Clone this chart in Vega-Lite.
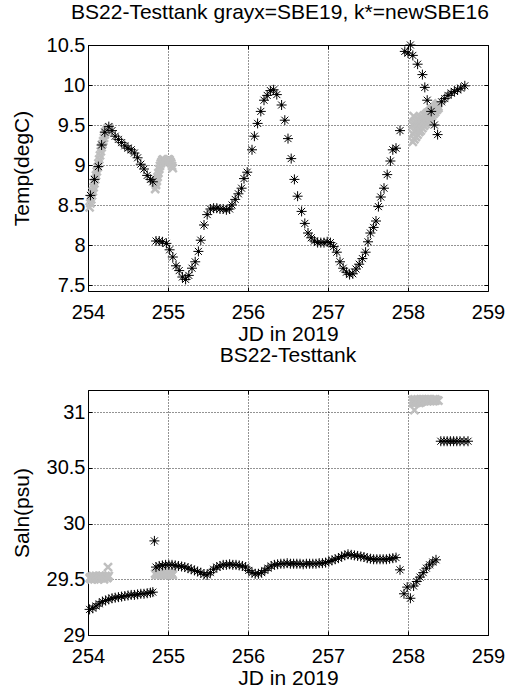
{
  "$schema": "https://vega.github.io/schema/vega-lite/v6.json",
  "background": "white",
  "padding": {"left": 10, "top": 1, "right": 0, "bottom": 0},
  "bounds": "flush",
  "spacing": 99,
  "config": {
    "font": "Liberation Sans",
    "view": {"stroke": "#000", "strokeWidth": 1},
    "axis": {
      "domain": false,
      "gridColor": "#000",
      "gridDash": [1, 2],
      "gridOpacity": 0.85,
      "gridWidth": 1,
      "tickColor": "#000",
      "tickSize": -4,
      "tickWidth": 1,
      "labelFont": "Liberation Sans",
      "labelFontSize": 20,
      "labelColor": "#000",
      "labelFlush": false,
      "labelOverlap": false,
      "titleFont": "Liberation Sans",
      "titleFontSize": 21,
      "titleFontWeight": "normal",
      "titleColor": "#000"
    },
    "axisBottom": {"labelBaseline": "alphabetic", "labelPadding": 31, "titleBaseline": "alphabetic", "titleY": 49},
    "axisLeft": {"labelPadding": 7, "titleBaseline": "alphabetic", "titleX": -60},
    "title": {"font": "Liberation Sans", "fontSize": 21, "fontWeight": "normal", "color": "#000", "anchor": "middle", "baseline": "alphabetic"}
  },
  "datasets": {
    "temp_sbe19": [
      {"jd": 254.02, "temp": 8.47}, {"jd": 254.03, "temp": 8.52}, {"jd": 254.04, "temp": 8.57}, {"jd": 254.05, "temp": 8.62},
      {"jd": 254.06, "temp": 8.67}, {"jd": 254.07, "temp": 8.72}, {"jd": 254.08, "temp": 8.77}, {"jd": 254.09, "temp": 8.82},
      {"jd": 254.10, "temp": 8.87}, {"jd": 254.11, "temp": 8.92}, {"jd": 254.12, "temp": 8.97}, {"jd": 254.13, "temp": 9.02},
      {"jd": 254.14, "temp": 9.07}, {"jd": 254.15, "temp": 9.12}, {"jd": 254.16, "temp": 9.17}, {"jd": 254.17, "temp": 9.22},
      {"jd": 254.18, "temp": 9.26}, {"jd": 254.19, "temp": 9.30}, {"jd": 254.20, "temp": 9.34}, {"jd": 254.21, "temp": 9.38},
      {"jd": 254.22, "temp": 9.41}, {"jd": 254.23, "temp": 9.43}, {"jd": 254.24, "temp": 9.45}, {"jd": 254.25, "temp": 9.46},
      {"jd": 254.26, "temp": 9.47},
      {"jd": 254.84, "temp": 8.70}, {"jd": 254.85, "temp": 8.75}, {"jd": 254.86, "temp": 8.80}, {"jd": 254.87, "temp": 8.85},
      {"jd": 254.88, "temp": 8.90}, {"jd": 254.89, "temp": 8.95}, {"jd": 254.90, "temp": 8.99}, {"jd": 254.91, "temp": 9.02},
      {"jd": 254.92, "temp": 9.04}, {"jd": 254.93, "temp": 9.06}, {"jd": 254.94, "temp": 9.07}, {"jd": 254.95, "temp": 9.06},
      {"jd": 254.96, "temp": 9.05}, {"jd": 254.97, "temp": 9.04}, {"jd": 254.98, "temp": 9.05}, {"jd": 254.99, "temp": 9.06},
      {"jd": 255.00, "temp": 9.07}, {"jd": 255.01, "temp": 9.07}, {"jd": 255.02, "temp": 9.06}, {"jd": 255.03, "temp": 9.04},
      {"jd": 255.04, "temp": 9.02}, {"jd": 255.05, "temp": 8.99}, {"jd": 255.06, "temp": 8.96},
      {"jd": 258.06, "temp": 9.29}, {"jd": 258.06, "temp": 9.39}, {"jd": 258.06, "temp": 9.50},
      {"jd": 258.08, "temp": 9.32}, {"jd": 258.08, "temp": 9.42}, {"jd": 258.08, "temp": 9.52},
      {"jd": 258.10, "temp": 9.35}, {"jd": 258.10, "temp": 9.44}, {"jd": 258.10, "temp": 9.54},
      {"jd": 258.12, "temp": 9.38}, {"jd": 258.12, "temp": 9.47}, {"jd": 258.12, "temp": 9.56},
      {"jd": 258.14, "temp": 9.41}, {"jd": 258.14, "temp": 9.49}, {"jd": 258.14, "temp": 9.57},
      {"jd": 258.16, "temp": 9.43}, {"jd": 258.16, "temp": 9.51}, {"jd": 258.16, "temp": 9.59},
      {"jd": 258.18, "temp": 9.46}, {"jd": 258.18, "temp": 9.53}, {"jd": 258.18, "temp": 9.60},
      {"jd": 258.20, "temp": 9.49}, {"jd": 258.20, "temp": 9.55}, {"jd": 258.20, "temp": 9.62},
      {"jd": 258.22, "temp": 9.51}, {"jd": 258.22, "temp": 9.57}, {"jd": 258.22, "temp": 9.63},
      {"jd": 258.24, "temp": 9.54}, {"jd": 258.24, "temp": 9.59}, {"jd": 258.24, "temp": 9.65},
      {"jd": 258.26, "temp": 9.56}, {"jd": 258.26, "temp": 9.61}, {"jd": 258.26, "temp": 9.66},
      {"jd": 258.28, "temp": 9.59}, {"jd": 258.28, "temp": 9.63}, {"jd": 258.28, "temp": 9.68},
      {"jd": 258.30, "temp": 9.61}, {"jd": 258.30, "temp": 9.65}, {"jd": 258.30, "temp": 9.70},
      {"jd": 258.32, "temp": 9.64}, {"jd": 258.32, "temp": 9.67}, {"jd": 258.32, "temp": 9.71},
      {"jd": 258.34, "temp": 9.66}, {"jd": 258.34, "temp": 9.69}, {"jd": 258.34, "temp": 9.73},
      {"jd": 258.36, "temp": 9.69}, {"jd": 258.36, "temp": 9.71}, {"jd": 258.36, "temp": 9.75},
      {"jd": 258.38, "temp": 9.71}, {"jd": 258.38, "temp": 9.73}, {"jd": 258.38, "temp": 9.77},
      {"jd": 258.07, "temp": 9.61}
    ],
    "temp_sbe16": [
      {"jd": 254.03, "temp": 8.62}, {"jd": 254.08, "temp": 8.82}, {"jd": 254.13, "temp": 8.98}, {"jd": 254.17, "temp": 9.25},
      {"jd": 254.21, "temp": 9.41}, {"jd": 254.26, "temp": 9.48}, {"jd": 254.30, "temp": 9.43}, {"jd": 254.34, "temp": 9.36},
      {"jd": 254.38, "temp": 9.32}, {"jd": 254.42, "temp": 9.28}, {"jd": 254.46, "temp": 9.24}, {"jd": 254.50, "temp": 9.21},
      {"jd": 254.54, "temp": 9.19}, {"jd": 254.58, "temp": 9.15}, {"jd": 254.62, "temp": 9.09}, {"jd": 254.66, "temp": 9.01},
      {"jd": 254.70, "temp": 8.95}, {"jd": 254.74, "temp": 8.87}, {"jd": 254.78, "temp": 8.82}, {"jd": 254.81, "temp": 8.79},
      {"jd": 254.85, "temp": 8.05}, {"jd": 254.89, "temp": 8.05}, {"jd": 254.93, "temp": 8.04}, {"jd": 254.98, "temp": 8.02},
      {"jd": 255.02, "temp": 7.94}, {"jd": 255.06, "temp": 7.85}, {"jd": 255.10, "temp": 7.74}, {"jd": 255.14, "temp": 7.68},
      {"jd": 255.18, "temp": 7.60}, {"jd": 255.22, "temp": 7.57}, {"jd": 255.26, "temp": 7.62}, {"jd": 255.30, "temp": 7.71},
      {"jd": 255.34, "temp": 7.79}, {"jd": 255.38, "temp": 7.92}, {"jd": 255.41, "temp": 8.06}, {"jd": 255.45, "temp": 8.25},
      {"jd": 255.49, "temp": 8.38}, {"jd": 255.53, "temp": 8.45}, {"jd": 255.57, "temp": 8.46}, {"jd": 255.61, "temp": 8.46},
      {"jd": 255.65, "temp": 8.45}, {"jd": 255.69, "temp": 8.45}, {"jd": 255.73, "temp": 8.44}, {"jd": 255.77, "temp": 8.45},
      {"jd": 255.80, "temp": 8.50}, {"jd": 255.84, "temp": 8.57}, {"jd": 255.88, "temp": 8.64}, {"jd": 255.92, "temp": 8.71},
      {"jd": 255.95, "temp": 8.83}, {"jd": 255.99, "temp": 8.91}, {"jd": 256.05, "temp": 9.19}, {"jd": 256.08, "temp": 9.36},
      {"jd": 256.12, "temp": 9.52}, {"jd": 256.16, "temp": 9.67}, {"jd": 256.20, "temp": 9.81}, {"jd": 256.24, "temp": 9.87},
      {"jd": 256.28, "temp": 9.93}, {"jd": 256.32, "temp": 9.94}, {"jd": 256.36, "temp": 9.88}, {"jd": 256.42, "temp": 9.75},
      {"jd": 256.46, "temp": 9.56}, {"jd": 256.50, "temp": 9.33}, {"jd": 256.54, "temp": 9.08}, {"jd": 256.58, "temp": 8.82},
      {"jd": 256.62, "temp": 8.61}, {"jd": 256.67, "temp": 8.42}, {"jd": 256.71, "temp": 8.27}, {"jd": 256.75, "temp": 8.15},
      {"jd": 256.79, "temp": 8.09}, {"jd": 256.83, "temp": 8.05}, {"jd": 256.87, "temp": 8.03}, {"jd": 256.91, "temp": 8.03},
      {"jd": 256.95, "temp": 8.03}, {"jd": 256.99, "temp": 8.04}, {"jd": 257.03, "temp": 8.03}, {"jd": 257.07, "temp": 7.98},
      {"jd": 257.11, "temp": 7.91}, {"jd": 257.15, "temp": 7.79}, {"jd": 257.19, "temp": 7.71}, {"jd": 257.23, "temp": 7.66},
      {"jd": 257.27, "temp": 7.63}, {"jd": 257.31, "temp": 7.64}, {"jd": 257.35, "temp": 7.70}, {"jd": 257.39, "temp": 7.76},
      {"jd": 257.43, "temp": 7.83}, {"jd": 257.47, "temp": 7.91}, {"jd": 257.50, "temp": 8.04}, {"jd": 257.53, "temp": 8.15},
      {"jd": 257.57, "temp": 8.22}, {"jd": 257.60, "temp": 8.30}, {"jd": 257.63, "temp": 8.48}, {"jd": 257.66, "temp": 8.60},
      {"jd": 257.70, "temp": 8.71}, {"jd": 257.74, "temp": 8.88}, {"jd": 257.78, "temp": 9.05}, {"jd": 257.81, "temp": 9.19},
      {"jd": 257.85, "temp": 9.21}, {"jd": 257.90, "temp": 9.43}, {"jd": 257.96, "temp": 10.42}, {"jd": 258.00, "temp": 10.40},
      {"jd": 258.03, "temp": 10.50}, {"jd": 258.06, "temp": 10.37}, {"jd": 258.12, "temp": 10.26}, {"jd": 258.18, "temp": 10.13},
      {"jd": 258.21, "temp": 9.97}, {"jd": 258.24, "temp": 9.81}, {"jd": 258.29, "temp": 9.67}, {"jd": 258.33, "temp": 9.50},
      {"jd": 258.37, "temp": 9.38}, {"jd": 258.42, "temp": 9.79}, {"jd": 258.46, "temp": 9.83}, {"jd": 258.50, "temp": 9.87},
      {"jd": 258.54, "temp": 9.90}, {"jd": 258.58, "temp": 9.92}, {"jd": 258.62, "temp": 9.94}, {"jd": 258.66, "temp": 9.96},
      {"jd": 258.71, "temp": 9.99}
    ],
    "saln_sbe19": [
      {"jd": 254.02, "saln": 29.51}, {"jd": 254.03, "saln": 29.52}, {"jd": 254.04, "saln": 29.50}, {"jd": 254.05, "saln": 29.52},
      {"jd": 254.06, "saln": 29.53}, {"jd": 254.07, "saln": 29.51}, {"jd": 254.08, "saln": 29.50}, {"jd": 254.09, "saln": 29.52},
      {"jd": 254.10, "saln": 29.53}, {"jd": 254.11, "saln": 29.51}, {"jd": 254.12, "saln": 29.52}, {"jd": 254.13, "saln": 29.50},
      {"jd": 254.14, "saln": 29.52}, {"jd": 254.15, "saln": 29.53}, {"jd": 254.16, "saln": 29.51}, {"jd": 254.17, "saln": 29.52},
      {"jd": 254.18, "saln": 29.53}, {"jd": 254.19, "saln": 29.51}, {"jd": 254.20, "saln": 29.50}, {"jd": 254.21, "saln": 29.52},
      {"jd": 254.22, "saln": 29.53}, {"jd": 254.23, "saln": 29.52}, {"jd": 254.24, "saln": 29.51}, {"jd": 254.25, "saln": 29.52},
      {"jd": 254.26, "saln": 29.53}, {"jd": 254.25, "saln": 29.61},
      {"jd": 254.84, "saln": 29.55}, {"jd": 254.85, "saln": 29.54}, {"jd": 254.86, "saln": 29.56}, {"jd": 254.87, "saln": 29.55},
      {"jd": 254.88, "saln": 29.54}, {"jd": 254.89, "saln": 29.56}, {"jd": 254.90, "saln": 29.55}, {"jd": 254.91, "saln": 29.54},
      {"jd": 254.92, "saln": 29.56}, {"jd": 254.93, "saln": 29.55}, {"jd": 254.94, "saln": 29.54}, {"jd": 254.95, "saln": 29.56},
      {"jd": 254.96, "saln": 29.55}, {"jd": 254.97, "saln": 29.54}, {"jd": 254.98, "saln": 29.56}, {"jd": 254.99, "saln": 29.55},
      {"jd": 255.00, "saln": 29.54}, {"jd": 255.01, "saln": 29.56}, {"jd": 255.02, "saln": 29.55}, {"jd": 255.03, "saln": 29.54},
      {"jd": 255.04, "saln": 29.56}, {"jd": 255.05, "saln": 29.55}, {"jd": 255.06, "saln": 29.54},
      {"jd": 258.06, "saln": 31.085}, {"jd": 258.06, "saln": 31.11}, {"jd": 258.08, "saln": 31.09}, {"jd": 258.08, "saln": 31.115},
      {"jd": 258.10, "saln": 31.085}, {"jd": 258.10, "saln": 31.11}, {"jd": 258.12, "saln": 31.09}, {"jd": 258.12, "saln": 31.115},
      {"jd": 258.14, "saln": 31.085}, {"jd": 258.14, "saln": 31.11}, {"jd": 258.16, "saln": 31.09}, {"jd": 258.16, "saln": 31.115},
      {"jd": 258.18, "saln": 31.10}, {"jd": 258.18, "saln": 31.115}, {"jd": 258.20, "saln": 31.10}, {"jd": 258.20, "saln": 31.11},
      {"jd": 258.22, "saln": 31.105}, {"jd": 258.22, "saln": 31.115}, {"jd": 258.24, "saln": 31.10}, {"jd": 258.24, "saln": 31.11},
      {"jd": 258.26, "saln": 31.105}, {"jd": 258.26, "saln": 31.115}, {"jd": 258.28, "saln": 31.10}, {"jd": 258.28, "saln": 31.115},
      {"jd": 258.30, "saln": 31.105}, {"jd": 258.30, "saln": 31.11}, {"jd": 258.32, "saln": 31.10}, {"jd": 258.32, "saln": 31.115},
      {"jd": 258.34, "saln": 31.105}, {"jd": 258.34, "saln": 31.115}, {"jd": 258.36, "saln": 31.11}, {"jd": 258.38, "saln": 31.105},
      {"jd": 258.08, "saln": 31.02}
    ],
    "saln_sbe16": [
      {"jd": 254.02, "saln": 29.23}, {"jd": 254.06, "saln": 29.24}, {"jd": 254.10, "saln": 29.26}, {"jd": 254.14, "saln": 29.28},
      {"jd": 254.18, "saln": 29.30}, {"jd": 254.22, "saln": 29.31}, {"jd": 254.26, "saln": 29.32}, {"jd": 254.30, "saln": 29.33},
      {"jd": 254.34, "saln": 29.335}, {"jd": 254.38, "saln": 29.34}, {"jd": 254.42, "saln": 29.345}, {"jd": 254.46, "saln": 29.35},
      {"jd": 254.50, "saln": 29.355}, {"jd": 254.54, "saln": 29.36}, {"jd": 254.58, "saln": 29.36}, {"jd": 254.62, "saln": 29.365},
      {"jd": 254.66, "saln": 29.37}, {"jd": 254.70, "saln": 29.37}, {"jd": 254.74, "saln": 29.375}, {"jd": 254.78, "saln": 29.38},
      {"jd": 254.81, "saln": 29.385}, {"jd": 254.83, "saln": 29.845}, {"jd": 254.85, "saln": 29.61}, {"jd": 254.89, "saln": 29.62},
      {"jd": 254.93, "saln": 29.625}, {"jd": 254.97, "saln": 29.63}, {"jd": 255.01, "saln": 29.63}, {"jd": 255.05, "saln": 29.63},
      {"jd": 255.09, "saln": 29.625}, {"jd": 255.13, "saln": 29.62}, {"jd": 255.17, "saln": 29.615}, {"jd": 255.21, "saln": 29.61},
      {"jd": 255.25, "saln": 29.60}, {"jd": 255.29, "saln": 29.59}, {"jd": 255.33, "saln": 29.58}, {"jd": 255.37, "saln": 29.57},
      {"jd": 255.41, "saln": 29.56}, {"jd": 255.45, "saln": 29.545}, {"jd": 255.49, "saln": 29.54}, {"jd": 255.53, "saln": 29.56},
      {"jd": 255.57, "saln": 29.59}, {"jd": 255.61, "saln": 29.61}, {"jd": 255.65, "saln": 29.62}, {"jd": 255.69, "saln": 29.63},
      {"jd": 255.73, "saln": 29.63}, {"jd": 255.77, "saln": 29.635}, {"jd": 255.81, "saln": 29.63}, {"jd": 255.85, "saln": 29.63},
      {"jd": 255.89, "saln": 29.625}, {"jd": 255.93, "saln": 29.62}, {"jd": 255.97, "saln": 29.61}, {"jd": 256.01, "saln": 29.58},
      {"jd": 256.05, "saln": 29.56}, {"jd": 256.09, "saln": 29.55}, {"jd": 256.13, "saln": 29.55}, {"jd": 256.17, "saln": 29.56},
      {"jd": 256.21, "saln": 29.58}, {"jd": 256.25, "saln": 29.60}, {"jd": 256.29, "saln": 29.62}, {"jd": 256.33, "saln": 29.63},
      {"jd": 256.37, "saln": 29.635}, {"jd": 256.41, "saln": 29.64}, {"jd": 256.45, "saln": 29.64}, {"jd": 256.49, "saln": 29.645},
      {"jd": 256.53, "saln": 29.64}, {"jd": 256.57, "saln": 29.64}, {"jd": 256.61, "saln": 29.64}, {"jd": 256.65, "saln": 29.64},
      {"jd": 256.69, "saln": 29.635}, {"jd": 256.73, "saln": 29.64}, {"jd": 256.77, "saln": 29.64}, {"jd": 256.81, "saln": 29.64},
      {"jd": 256.85, "saln": 29.64}, {"jd": 256.89, "saln": 29.645}, {"jd": 256.93, "saln": 29.645}, {"jd": 256.97, "saln": 29.65},
      {"jd": 257.01, "saln": 29.66}, {"jd": 257.05, "saln": 29.67}, {"jd": 257.09, "saln": 29.68}, {"jd": 257.13, "saln": 29.69},
      {"jd": 257.17, "saln": 29.705}, {"jd": 257.21, "saln": 29.715}, {"jd": 257.25, "saln": 29.725}, {"jd": 257.29, "saln": 29.72},
      {"jd": 257.33, "saln": 29.715}, {"jd": 257.37, "saln": 29.71}, {"jd": 257.41, "saln": 29.705}, {"jd": 257.45, "saln": 29.70},
      {"jd": 257.49, "saln": 29.69}, {"jd": 257.53, "saln": 29.685}, {"jd": 257.57, "saln": 29.68}, {"jd": 257.61, "saln": 29.68},
      {"jd": 257.65, "saln": 29.68}, {"jd": 257.69, "saln": 29.68}, {"jd": 257.73, "saln": 29.68}, {"jd": 257.77, "saln": 29.685},
      {"jd": 257.81, "saln": 29.69}, {"jd": 257.85, "saln": 29.695}, {"jd": 257.90, "saln": 29.585}, {"jd": 257.95, "saln": 29.37},
      {"jd": 257.99, "saln": 29.43}, {"jd": 258.03, "saln": 29.33}, {"jd": 258.07, "saln": 29.44}, {"jd": 258.11, "saln": 29.48},
      {"jd": 258.15, "saln": 29.52}, {"jd": 258.19, "saln": 29.56}, {"jd": 258.23, "saln": 29.60}, {"jd": 258.27, "saln": 29.63},
      {"jd": 258.31, "saln": 29.655}, {"jd": 258.35, "saln": 29.675},
      {"jd": 258.41, "saln": 30.74}, {"jd": 258.45, "saln": 30.74}, {"jd": 258.49, "saln": 30.74}, {"jd": 258.53, "saln": 30.74},
      {"jd": 258.57, "saln": 30.74}, {"jd": 258.61, "saln": 30.74}, {"jd": 258.65, "saln": 30.74}, {"jd": 258.70, "saln": 30.74},
      {"jd": 258.75, "saln": 30.74}
    ]
  },
  "vconcat": [
    {
      "width": 400,
      "height": 246,
      "title": {"text": "BS22-Testtank grayx=SBE19, k*=newSBE16", "dx": -8, "offset": 12},
      "layer": [
        {
          "data": {"name": "temp_sbe19"},
          "mark": {"type": "point", "shape": "M-1,-1L1,1M-1,1L1,-1", "filled": false, "stroke": "#bfbfbf", "strokeWidth": 2.5, "size": 64, "opacity": 1},
          "encoding": {
            "x": {"field": "jd", "type": "quantitative", "scale": {"domain": [254, 259], "nice": false, "zero": false},
                  "axis": {"orient": "bottom", "title": "JD in 2019", "values": [254, 255, 256, 257, 258, 259], "format": "d", "grid": true}},
            "y": {"field": "temp", "type": "quantitative", "scale": {"domain": [7.425, 10.5], "nice": false, "zero": false},
                  "axis": {"orient": "left", "title": "Temp(degC)", "values": [7.5, 8, 8.5, 9, 9.5, 10, 10.5], "format": "~g", "grid": true}}
          }
        },
        {
          "data": {"name": "temp_sbe16"},
          "mark": {"type": "point", "shape": "M0,-1L0,1M-1,0L1,0M-0.7,-0.7L0.7,0.7M-0.7,0.7L0.7,-0.7", "filled": false, "stroke": "#000", "strokeWidth": 1, "size": 100, "opacity": 1},
          "encoding": {
            "x": {"field": "jd", "type": "quantitative", "axis": {"orient": "top", "title": null, "labels": false, "grid": false, "values": [254, 255, 256, 257, 258, 259]}},
            "y": {"field": "temp", "type": "quantitative", "axis": {"orient": "right", "title": null, "labels": false, "grid": false, "values": [7.5, 8, 8.5, 9, 9.5, 10, 10.5]}}
          }
        },
        {
          "data": {"name": "temp_sbe16"},
          "mark": {"type": "point", "shape": "circle", "filled": true, "color": "#000", "size": 7, "opacity": 1},
          "encoding": {
            "x": {"field": "jd", "type": "quantitative", "axis": null},
            "y": {"field": "temp", "type": "quantitative", "axis": null}
          }
        }
      ]
    },
    {
      "width": 400,
      "height": 245,
      "title": {"text": "BS22-Testtank", "offset": 24},
      "layer": [
        {
          "data": {"name": "saln_sbe19"},
          "mark": {"type": "point", "shape": "M-1,-1L1,1M-1,1L1,-1", "filled": false, "stroke": "#bfbfbf", "strokeWidth": 2.5, "size": 64, "opacity": 1},
          "encoding": {
            "x": {"field": "jd", "type": "quantitative", "scale": {"domain": [254, 259], "nice": false, "zero": false},
                  "axis": {"orient": "bottom", "title": "JD in 2019", "values": [254, 255, 256, 257, 258, 259], "format": "d", "grid": true}},
            "y": {"field": "saln", "type": "quantitative", "scale": {"domain": [29, 31.2], "nice": false, "zero": false},
                  "axis": {"orient": "left", "title": "Saln(psu)", "values": [29, 29.5, 30, 30.5, 31], "format": "~g", "grid": true}}
          }
        },
        {
          "data": {"name": "saln_sbe16"},
          "mark": {"type": "point", "shape": "M0,-1L0,1M-1,0L1,0M-0.7,-0.7L0.7,0.7M-0.7,0.7L0.7,-0.7", "filled": false, "stroke": "#000", "strokeWidth": 1, "size": 100, "opacity": 1},
          "encoding": {
            "x": {"field": "jd", "type": "quantitative", "axis": {"orient": "top", "title": null, "labels": false, "grid": false, "values": [254, 255, 256, 257, 258, 259]}},
            "y": {"field": "saln", "type": "quantitative", "axis": {"orient": "right", "title": null, "labels": false, "grid": false, "values": [29, 29.5, 30, 30.5, 31]}}
          }
        },
        {
          "data": {"name": "saln_sbe16"},
          "mark": {"type": "point", "shape": "circle", "filled": true, "color": "#000", "size": 7, "opacity": 1},
          "encoding": {
            "x": {"field": "jd", "type": "quantitative", "axis": null},
            "y": {"field": "saln", "type": "quantitative", "axis": null}
          }
        }
      ]
    }
  ]
}
